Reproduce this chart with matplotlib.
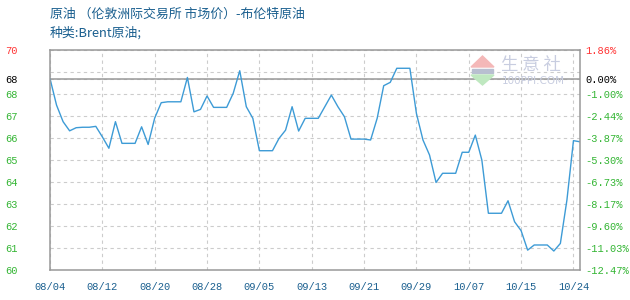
import numpy as np
import matplotlib
matplotlib.use("Agg")
import matplotlib.pyplot as plt
from matplotlib.patches import Polygon, Rectangle

# daily Brent price (08/04 .. 10/24)
prices = [
    68.72, 67.53, 66.79, 66.38, 66.52, 66.54, 66.54, 66.58, 66.11, 65.60,
    66.79, 65.82, 65.82, 65.82, 66.56, 65.77, 66.95, 67.64, 67.68, 67.68,
    67.68, 68.77, 67.23, 67.34, 67.94, 67.43, 67.43, 67.43, 68.06, 69.07,
    67.46, 66.94, 65.49, 65.49, 65.49, 66.04, 66.41, 67.46, 66.37, 66.94,
    66.94, 66.94, 67.46, 67.98, 67.46, 67.01, 66.01, 66.01, 66.01, 65.97,
    66.94, 68.40, 68.55, 69.18, 69.18, 69.18, 67.16, 65.97, 65.30, 64.07,
    64.48, 64.48, 64.48, 65.42, 65.42, 66.19, 65.07, 62.69, 62.69, 62.69,
    63.25, 62.31, 61.91, 61.04, 61.27, 61.27, 61.27, 61.00, 61.34, 63.28,
    65.94, 65.89,
]
date_labels = ["08/04", "08/12", "08/20", "08/28", "09/05", "09/13",
               "09/21", "09/29", "10/07", "10/15", "10/24"]
left_labels = ["60", "61", "62", "63", "64", "65", "66", "67", "68", "", "70"]
right_labels = ["-12.47%", "-11.03%", "-9.60%", "-8.17%", "-6.73%", "-5.30%",
                "-3.87%", "-2.44%", "-1.00%", "", "1.86%"]
pct_low, pct_high = -12.47, 1.86

title = "原油 （伦敦洲际交易所 市场价）-布伦特原油"
subtitle = "种类:Brent原油;"

RED, GREEN, BLUE_TXT = "#ff3333", "#33b533", "#1a5f8f"
GRAY = "#999999"

base = prices[0]
ymin = base * (1 + pct_low / 100)
ymax = base * (1 + pct_high / 100)
grid_vals = np.linspace(ymin, ymax, len(left_labels))
x = np.arange(len(prices))

fig = plt.figure(figsize=(6.3, 3.0), dpi=100)
ax = fig.add_axes([50 / 630, 30 / 300, 530 / 630, 220 / 300])

ax.plot(x, prices, color="#3d9bd6", lw=1.0)
ax.axhline(base, color=GRAY, lw=1.1, zorder=1)

ax.set_xlim(0, len(prices) - 1)
ax.set_ylim(ymin, ymax)
ax.set_xticks(np.arange(0, len(prices), 8))
ax.set_xticklabels(date_labels, family="Liberation Mono", fontsize=7.5, color=BLUE_TXT)

ax.set_yticks(list(grid_vals) + [base])
ax.set_yticklabels(left_labels + ["68"], family="Liberation Mono", fontsize=7.5)
for i, t in enumerate(ax.get_yticklabels()):
    t.set_horizontalalignment("left")
    t.set_color("black" if i == len(left_labels) else (RED if i == len(left_labels) - 1 else GREEN))

ax.tick_params(axis="y", length=0, pad=32.4)
ax.tick_params(axis="x", length=0, pad=9)
ax.grid(True, color="#cccccc", linestyle=(0, (3, 3)), lw=0.8)
ax.set_axisbelow(True)
for s in ax.spines.values():
    s.set_color(GRAY)
    s.set_linewidth(1.1)

ax2 = ax.twinx()
ax2.set_ylim(ymin, ymax)
ax2.set_yticks(list(grid_vals) + [base])
ax2.set_yticklabels(right_labels + ["0.00%"], family="Liberation Mono", fontsize=7.5)
for i, t in enumerate(ax2.get_yticklabels()):
    t.set_color("black" if i == len(right_labels) else (RED if i == len(right_labels) - 1 else GREEN))
ax2.tick_params(axis="y", length=0, pad=3.6)
for s in ax2.spines.values():
    s.set_visible(False)

fig.text(50 / 630, 1 - 14 / 300, title, family=["Noto Sans CJK SC", "DejaVu Sans"],
         fontsize=9.3, color=BLUE_TXT, va="center", ha="left")
fig.text(50 / 630, 1 - 33 / 300, subtitle, family=["Noto Sans CJK SC", "DejaVu Sans"],
         fontsize=9.3, color=BLUE_TXT, va="center", ha="left")

# watermark logo
def fx(px):
    return px / 630

def fy(py):
    return 1 - py / 300

fig.patches.append(Polygon([(fx(471), fy(67)), (fx(494), fy(67)), (fx(482.5), fy(56))],
                           closed=True, transform=fig.transFigure, color="#f4b8b8", zorder=5))
fig.patches.append(Rectangle((fx(472), fy(73)), fx(21), 4 / 300,
                             transform=fig.transFigure, color="#b8bfd0", zorder=5))
fig.patches.append(Polygon([(fx(471), fy(75)), (fx(494), fy(75)), (fx(482.5), fy(85))],
                           closed=True, transform=fig.transFigure, color="#bfe8c0", zorder=5))
fig.text(fx(501), fy(65), "生 意 社", family=["Noto Sans CJK SC", "DejaVu Sans"],
         fontsize=12.5, color="#c8cde0", va="center", ha="left", zorder=5)
fig.text(fx(502), fy(81), "100PPI.COM", family="DejaVu Sans",
         fontsize=7.5, color="#c8cde0", va="center", ha="left", zorder=5)

fig.savefig("out.png", dpi=100)
